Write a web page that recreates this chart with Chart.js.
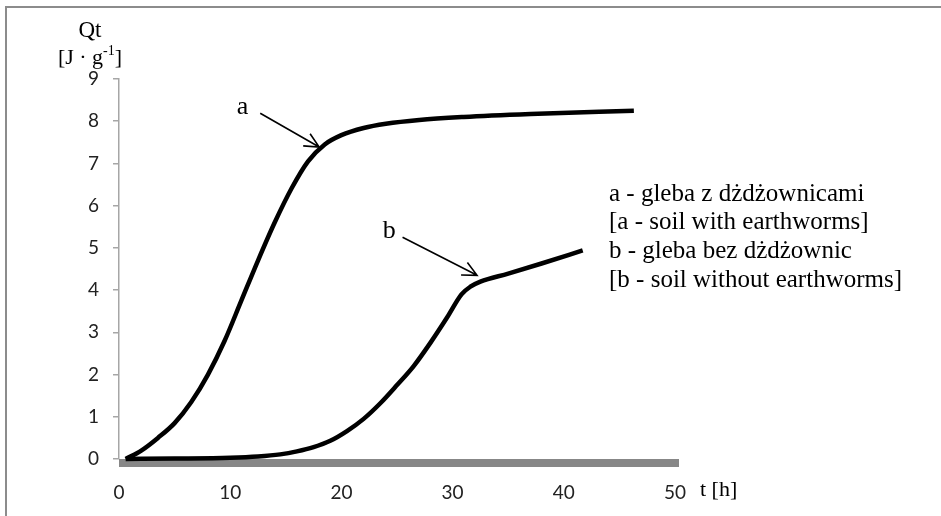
<!DOCTYPE html>
<html>
<head>
<meta charset="utf-8">
<script src="https://cdn.jsdelivr.net/npm/chart.js@4.4.1/dist/chart.umd.min.js"></script>
<style>
  html, body { margin: 0; padding: 0; background: #fff; }
  #wrap { width: 941px; height: 516px; position: relative; }
</style>
</head>
<body>
<div id="wrap"><canvas id="heat-chart"></canvas></div>
<script>
// Krzywa a - gleba z dżdżownicami
const tA = [0.6, 2, 3.5, 5, 6.5, 8, 9.5, 11, 12.5, 14, 15.5, 17, 18.5, 20, 22, 24, 27, 31, 37, 46.3];
const qA = [0, 0.2, 0.5, 0.85, 1.35, 2.0, 2.8, 3.75, 4.7, 5.6, 6.4, 7.05, 7.45, 7.67, 7.84, 7.94, 8.03, 8.1, 8.17, 8.25];

// Krzywa b - gleba bez dżdżownic
const tB = [0.6, 5, 10, 12.5, 14.5, 16, 17.5, 19, 20.5, 22, 23.5, 25, 26.5, 28, 29.5, 30.8, 31.6, 32.5, 35, 38, 41.7];
const qB = [0, 0.01, 0.03, 0.06, 0.11, 0.18, 0.28, 0.43, 0.66, 0.95, 1.32, 1.75, 2.2, 2.75, 3.35, 3.9, 4.08, 4.2, 4.39, 4.63, 4.94];

const xTicks = [0, 10, 20, 30, 40, 50];
const yTicks = [0, 1, 2, 3, 4, 5, 6, 7, 8, 9];

const legendLines = [
  'a - gleba z dżdżownicami',
  '[a - soil with earthworms]',
  'b - gleba bez dżdżownic',
  '[b - soil without earthworms]'
];

// etykiety krzywych ze strzałkami (w jednostkach osi)
const arrowLabels = [
  { text: 'a', at: [11.1, 8.33], from: [12.7, 8.19], to: [18.0, 7.39] },
  { text: 'b', at: [24.3, 5.39], from: [25.5, 5.25], to: [32.2, 4.35] }
];

const toPoints = (xs, ys) => xs.map((x, i) => ({ x: x, y: ys[i] }));

const serif = '"Liberation Serif", "Times New Roman", serif';

const decorPlugin = {
  id: 'decor',
  beforeDraw(chart) {
    const ctx = chart.ctx;
    ctx.save();
    ctx.strokeStyle = '#8c8c8c';
    ctx.lineWidth = 2;
    ctx.beginPath();
    ctx.moveTo(6, 516);
    ctx.lineTo(6, 7);
    ctx.lineTo(941, 7);
    ctx.stroke();
    ctx.restore();
  },
  beforeDatasetsDraw(chart) {
    const ctx = chart.ctx;
    const a = chart.chartArea;
    ctx.save();
    ctx.fillStyle = '#878787';
    ctx.fillRect(a.left, a.bottom, a.right - a.left + 4, 8);
    ctx.restore();
  },
  afterDraw(chart) {
    const ctx = chart.ctx;
    const xs = chart.scales.x, ys = chart.scales.y;
    ctx.save();
    ctx.fillStyle = '#000';
    ctx.textBaseline = 'middle';

    // tytuł osi Y
    ctx.textAlign = 'center';
    ctx.font = '23px ' + serif;
    ctx.fillText('Qt', 90, 31);
    ctx.font = '22px ' + serif;
    const left = ctx.measureText('[J · g').width;
    ctx.font = '14px ' + serif;
    const sup = ctx.measureText('-1').width;
    ctx.font = '22px ' + serif;
    const close = ctx.measureText(']').width;
    let x0 = 90 - (left + sup + close) / 2;
    ctx.textAlign = 'left';
    ctx.fillText('[J · g', x0, 58);
    ctx.font = '14px ' + serif;
    ctx.fillText('-1', x0 + left, 51);
    ctx.font = '22px ' + serif;
    ctx.fillText(']', x0 + left + sup, 58);

    // tytuł osi X
    ctx.font = '22px ' + serif;
    ctx.fillText('t [h]', 700, 490);

    // legenda
    ctx.font = '25px ' + serif;
    legendLines.forEach((line, i) => {
      ctx.fillText(line, 609, 194 + i * 28.7);
    });

    // strzałki
    arrowLabels.forEach(lab => {
      ctx.font = '26px ' + serif;
      ctx.textAlign = 'center';
      ctx.fillText(lab.text, xs.getPixelForValue(lab.at[0]), ys.getPixelForValue(lab.at[1]));
      const x1 = xs.getPixelForValue(lab.from[0]), y1 = ys.getPixelForValue(lab.from[1]);
      const x2 = xs.getPixelForValue(lab.to[0]), y2 = ys.getPixelForValue(lab.to[1]);
      ctx.strokeStyle = '#000';
      ctx.lineWidth = 1.6;
      ctx.beginPath();
      ctx.moveTo(x1, y1);
      ctx.lineTo(x2, y2);
      const ang = Math.atan2(y2 - y1, x2 - x1);
      const hl = 16;
      ctx.moveTo(x2 - hl * Math.cos(ang - 0.45), y2 - hl * Math.sin(ang - 0.45));
      ctx.lineTo(x2, y2);
      ctx.lineTo(x2 - hl * Math.cos(ang + 0.45), y2 - hl * Math.sin(ang + 0.45));
      ctx.stroke();
    });
    ctx.restore();
  }
};

new Chart(document.getElementById('heat-chart'), {
  type: 'line',
  data: {
    datasets: [
      {
        label: 'a',
        data: toPoints(tA, qA),
        borderColor: '#000',
        borderWidth: 4.5,
        pointRadius: 0,
        cubicInterpolationMode: 'monotone',
        clip: false
      },
      {
        label: 'b',
        data: toPoints(tB, qB),
        borderColor: '#000',
        borderWidth: 4.5,
        pointRadius: 0,
        cubicInterpolationMode: 'monotone',
        clip: false
      }
    ]
  },
  options: {
    responsive: true,
    maintainAspectRatio: false,
    animation: false,
    layout: { padding: { left: 0, top: 79, right: 266, bottom: 0 } },
    plugins: { legend: { display: false }, tooltip: { enabled: false } },
    scales: {
      x: {
        type: 'linear',
        min: 0,
        max: 50,
        afterBuildTicks: s => { s.ticks = xTicks.map(v => ({ value: v })); },
        afterFit: s => { s.height = 57; },
        grid: { display: false },
        border: { display: false },
        ticks: {
          padding: 14,
          color: '#222',
          font: { family: 'Lato', size: 19 }
        }
      },
      y: {
        min: 0,
        max: 9,
        afterBuildTicks: s => { s.ticks = yTicks.map(v => ({ value: v })); },
        afterFit: s => { s.width = 119; },
        grid: { drawOnChartArea: false, drawTicks: true, tickLength: 6, color: '#a6a6a6', lineWidth: 1.5 },
        border: { display: true, color: '#a6a6a6', width: 1.5 },
        ticks: {
          padding: 14,
          color: '#222',
          font: { family: 'Lato', size: 19 }
        }
      }
    }
  },
  plugins: [decorPlugin]
});
</script>
</body>
</html>
